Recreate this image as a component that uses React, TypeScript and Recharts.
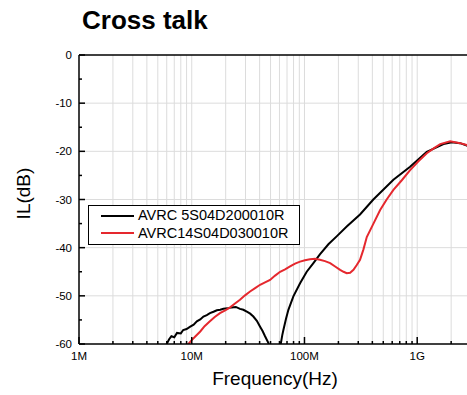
import { LineChart, Line, XAxis, YAxis, CartesianGrid, Legend, ReferenceLine, Label } from "recharts";

const FONT = '"Liberation Sans", Arial, Helvetica, sans-serif';

// AVRC 5S04D200010R — frequency (MHz) / insertion loss (dB)
const blackFreq = [
  5.4, 6.0, 6.3, 6.6, 7.0, 7.4, 8.0, 8.4, 9.0, 9.7, 10.4, 11.1, 11.9, 12.7, 13.6, 14.5,
  15.6, 16.7, 17.9, 19.1, 20.8, 22.6, 24.6, 26.8, 28.7, 30.8, 33.0, 35.2, 37.8, 40.4,
  42.5, 44.7, 47.9, 53, 58, 61.6, 63.5, 65.0, 68.5, 72.0, 79.7, 91.4, 104.7, 120, 137,
  163, 194, 237, 311, 408, 615, 865, 1216, 1710, 2030, 2400, 2750, 3000,
];
const blackDb = [
  -63, -60, -59.0, -58.4, -58.6, -57.7, -57.8, -57.1, -56.9, -56.4, -56.0, -55.3, -54.9, -54.3, -54.0, -53.6,
  -53.3, -53.0, -52.9, -52.7, -52.6, -52.4, -52.3, -52.7, -52.9, -53.3, -53.7, -54.3, -55.2, -56.4,
  -57.3, -58.4, -59.8, -64, -64, -60, -58.2, -57.1, -54.8, -52.9, -50.1, -47.4, -45.0, -43.2, -41.4,
  -39.3, -37.6, -35.6, -33.1, -30.0, -25.9, -23.2, -20.1, -18.5, -18.1, -18.3, -18.8, -19.0,
];

// AVRC14S04D030010R
const redFreq = [
  8.8, 9.33, 10.0, 10.8, 11.9, 13.0, 14.5, 16.0, 17.8, 19.8, 21.9, 24.2, 26.8, 29.7, 32.9,
  36.5, 40.4, 44.7, 49.5, 54.9, 60.8, 67.3, 74.5, 82.5, 91.4, 101, 112, 124, 137, 152, 169,
  187, 207, 222, 237, 254, 272, 291, 311, 333, 357, 409, 469, 536, 615, 730, 865, 1020,
  1216, 1400, 1600, 1960, 2400, 2750, 3000,
];
const redDb = [
  -61.5, -60, -59.2, -58.4, -57.4, -56.3, -55.3, -54.4, -53.6, -53.0, -52.4, -51.6, -50.8, -49.9, -49.1,
  -48.4, -47.7, -47.2, -46.7, -45.8, -45.0, -44.5, -43.9, -43.3, -42.9, -42.6, -42.4, -42.3, -42.5, -42.8, -43.2,
  -43.9, -44.6, -45.0, -45.3, -45.2, -44.6, -43.6, -42.5, -40.4, -37.8, -35.0, -32.2, -30.0, -28.0, -26.0, -23.9, -22.1,
  -20.4, -19.4, -18.5, -17.9, -18.3, -18.7, -19.0,
];

const decades = [1, 10, 100, 1000];
const decadeLabels = ["1M", "10M", "100M", "1G"];
const minorSteps = [2, 3, 4, 5, 6, 7, 8, 9];
const yMajor = [0, -10, -20, -30, -40, -50, -60];
const yMinor = [-5, -15, -25, -35, -45, -55];

const X_MAX = 3000;
const xTicks = decades
  .flatMap((d) => [d, ...minorSteps.map((m) => d * m)])
  .filter((v) => v <= X_MAX);
const gridX = xTicks.filter((v) => v > 1);
const gridY = [-10, -20, -30, -40, -50];

const blackData = blackFreq.map((f, i) => ({ f, db: blackDb[i] }));
const redData = redFreq.map((f, i) => ({ f, db: redDb[i] }));

function XTick({ x, y, payload }: any) {
  const i = decades.indexOf(payload.value);
  const major = i >= 0;
  return (
    <g>
      <line x1={x} x2={x} y1={y} y2={y - (major ? 7 : 3)} stroke="#000" strokeWidth={1.5} />
      {major && (
        <text x={x} y={y + 8} dy="0.71em" textAnchor="middle" fontSize={11.5} fontFamily={FONT} fill="#000">
          {decadeLabels[i]}
        </text>
      )}
    </g>
  );
}

function YTick({ x, y, payload }: any) {
  const major = payload.value % 10 === 0;
  return (
    <g>
      <line x1={x} x2={x + (major ? 6 : 3)} y1={y} y2={y} stroke="#000" strokeWidth={1.5} />
      {major && (
        <text x={x - 7} y={y} dy="0.355em" textAnchor="end" fontSize={11.5} fontFamily={FONT} fill="#000">
          {payload.value}
        </text>
      )}
    </g>
  );
}

function LegendBox({ payload }: any) {
  return (
    <div
      style={{
        boxSizing: "border-box",
        width: 212,
        border: "1px solid #000",
        background: "#fff",
        padding: "1px 0 2px 12px",
        fontFamily: FONT,
        fontSize: 14.5,
        color: "#000",
      }}
    >
      {(payload || []).map((p: any) => (
        <div key={p.value} style={{ display: "flex", alignItems: "center", height: 17.6, lineHeight: "17.6px" }}>
          <span style={{ display: "inline-block", width: 33, height: 2, background: p.color, marginRight: 4 }} />
          <span>{p.value}</span>
        </div>
      ))}
    </div>
  );
}

export default function App() {
  return (
    <div style={{ position: "relative", width: 467, height: 395, overflow: "hidden", background: "#fff" }}>
      <style>{"body{margin:0}"}</style>
      <div
        style={{
          position: "absolute",
          left: 82,
          top: 7,
          fontFamily: FONT,
          fontWeight: "bold",
          fontSize: 26,
          lineHeight: "26px",
          color: "#000",
          zIndex: 2,
        }}
      >
        Cross talk
      </div>
      <LineChart width={480} height={395} margin={{ top: 55, right: 9, bottom: 0, left: 0 }}>
        <CartesianGrid
          stroke="#dcdcdc"
          strokeWidth={1}
          verticalValues={gridX}
          horizontalValues={gridY}
        />
        <XAxis
          dataKey="f"
          type="number"
          scale="log"
          domain={[1, X_MAX]}
          ticks={xTicks}
          interval={0}
          allowDataOverflow
          height={51}
          tickSize={0}
          tickMargin={0}
          tickLine={false}
          tick={<XTick />}
          axisLine={{ stroke: "#000", strokeWidth: 1.5 }}
        >
          <Label
            value="Frequency(Hz)"
            position="insideBottom"
            offset={10}
            style={{ fontSize: 19, fontFamily: FONT, fill: "#000" }}
          />
        </XAxis>
        <YAxis
          type="number"
          domain={[-60, 0]}
          ticks={[...yMajor, ...yMinor].sort((a, b) => b - a)}
          interval={0}
          allowDataOverflow
          width={79}
          tickSize={0}
          tickMargin={0}
          tickLine={false}
          tick={<YTick />}
          axisLine={{ stroke: "#000", strokeWidth: 1.5 }}
        >
          <Label
            content={({ viewBox }: any) => (
              <text
                transform={`translate(${viewBox.x + 23},${viewBox.y + viewBox.height / 2 - 6}) rotate(-90)`}
                textAnchor="middle"
                dominantBaseline="central"
                fontSize={19}
                fontFamily={FONT}
                fill="#000"
              >
                IL(dB)
              </text>
            )}
          />
        </YAxis>
        <ReferenceLine y={0} stroke="#000" strokeWidth={1.5} />
        <Line
          data={blackData}
          dataKey="db"
          name="AVRC 5S04D200010R"
          type="linear"
          stroke="#000"
          strokeWidth={2}
          dot={false}
          isAnimationActive={false}
        />
        <Line
          data={redData}
          dataKey="db"
          name="AVRC14S04D030010R"
          type="linear"
          stroke="#e5282e"
          strokeWidth={2}
          dot={false}
          isAnimationActive={false}
        />
        <Legend
          layout="horizontal"
          verticalAlign="middle"
          align="center"
          content={<LegendBox />}
          wrapperStyle={{ left: 88, top: 205, width: 212 }}
        />
      </LineChart>
    </div>
  );
}
